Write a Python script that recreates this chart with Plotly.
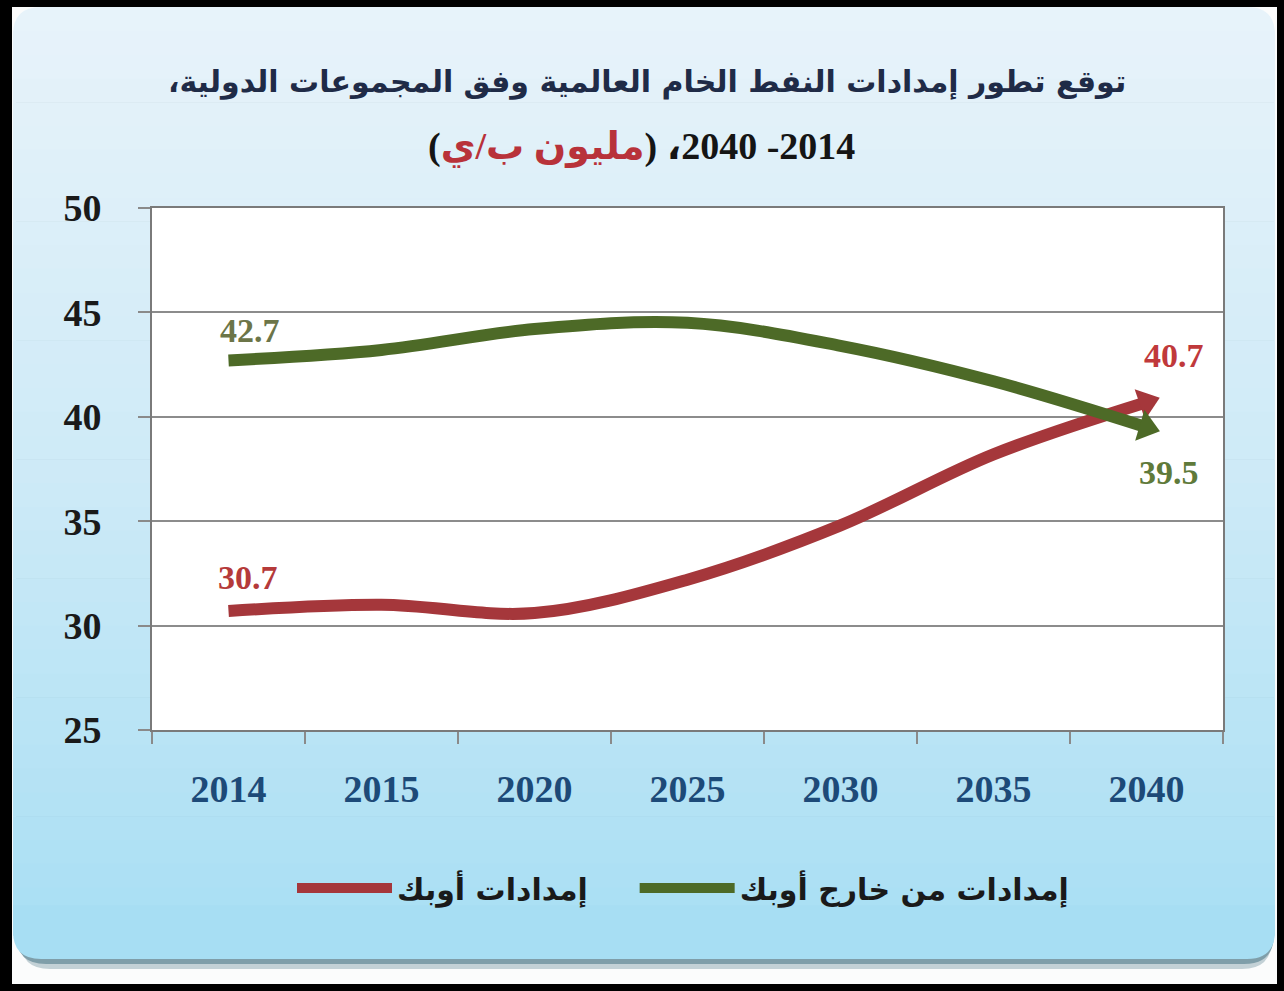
import math
import plotly.graph_objects as go

# ---------------- data ----------------
years = ["2014", "2015", "2020", "2025", "2030", "2035", "2040"]
opec = [30.7, 31.0, 30.6, 32.2, 34.8, 38.2, 40.7]
non_opec = [42.7, 43.2, 44.2, 44.5, 43.4, 41.7, 39.5]
y_ticks = [25, 30, 35, 40, 45, 50]
name_opec = "إمدادات أوبك"
name_non = "إمدادات من خارج أوبك"
title_l1 = "توقع تطور إمدادات النفط الخام العالمية وفق المجموعات الدولية،"
title_l2a = "2014- 2040، ("
title_l2b = "مليون ب/ي"
title_l2c = ")"

RED = "#a5373b"
GREEN = "#4d6a27"

# pixel geometry of plot area
L, R, T, B = 152, 1223, 208, 730
W, H = R - L, B - T
YMIN, YMAX = 25, 50


def px(x):
    return (x - L) / W


def py(y):
    return (B - y) / H


n = len(years)
cat_px = W / n
val_px = H / (YMAX - YMIN)


def end_angle(vals):
    # heading of the final segment (clockwise from up), for the arrow head
    dy = (vals[-1] - vals[-2]) * val_px
    return 90 - math.degrees(math.atan2(dy, cat_px))


fig = go.Figure()
fig.add_trace(go.Scatter(
    x=years, y=opec, name=name_opec + "\u00a0\u00a0\u00a0\u00a0", mode="lines",
    line=dict(color=RED, width=12, shape="spline", smoothing=1.0),
))
fig.add_trace(go.Scatter(
    x=years, y=non_opec, name=name_non, mode="lines",
    line=dict(color=GREEN, width=12, shape="spline", smoothing=1.0),
))
# arrow heads at the series ends
for vals, col in ((opec, RED), (non_opec, GREEN)):
    fig.add_trace(go.Scatter(
        x=[years[-1]], y=[vals[-1]], mode="markers", showlegend=False, hoverinfo="skip",
        marker=dict(symbol="triangle-up", angle=end_angle(vals), size=28, color=col,
                    line=dict(width=0)),
    ))

# ---------------- background shapes ----------------
shapes = []
shapes.append(dict(type="rect", xref="paper", yref="paper", layer="below",
                   x0=px(12), x1=px(1277), y0=py(984), y1=py(7),
                   fillcolor="#fbfcfc", line=dict(width=0)))


def rounded_path(x0, y0, x1, y1, r, top=True, bottom=True):
    rt = r if top else 0
    rb = r if bottom else 0
    s = f"M{px(x0 + rt)},{py(y0)} L{px(x1 - rt)},{py(y0)} "
    if rt:
        s += f"Q{px(x1)},{py(y0)} {px(x1)},{py(y0 + rt)} "
    s += f"L{px(x1)},{py(y1 - rb)} "
    if rb:
        s += f"Q{px(x1)},{py(y1)} {px(x1 - rb)},{py(y1)} "
    s += f"L{px(x0 + rb)},{py(y1)} "
    if rb:
        s += f"Q{px(x0)},{py(y1)} {px(x0)},{py(y1 - rb)} "
    s += f"L{px(x0)},{py(y0 + rt)} "
    if rt:
        s += f"Q{px(x0)},{py(y0)} {px(x0 + rt)},{py(y0)} "
    s += "Z"
    return s


shapes.append(dict(type="path", xref="paper", yref="paper", layer="below",
                   path=rounded_path(20, 20, 1272, 969, 30),
                   fillcolor="#c3d1d6", line=dict(width=0)))
shapes.append(dict(type="path", xref="paper", yref="paper", layer="below",
                   path=rounded_path(16, 14, 1274, 964, 30),
                   fillcolor="#7f9ea9", line=dict(width=0)))

cx0, cx1, cy0, cy1 = 13, 1275, 7, 959
nb = 40
c_top = (232, 243, 250)
c_mid = (205, 234, 247)
c_bot = (166, 222, 243)


def lerp(a, b, t):
    return tuple(int(round(a[i] + (b[i] - a[i]) * t)) for i in range(3))


band_h = (cy1 - cy0) / nb
for i in range(nb):
    t = (i + 0.5) / nb
    col = lerp(c_top, c_mid, t / 0.5) if t < 0.5 else lerp(c_mid, c_bot, (t - 0.5) / 0.5)
    colstr = "rgb(%d,%d,%d)" % col
    ya = cy0 + i * band_h
    yb = cy0 + (i + 1) * band_h + 0.6
    if i == 0:
        shapes.append(dict(type="path", xref="paper", yref="paper", layer="below",
                           path=rounded_path(cx0, ya, cx1, yb + 30, 28, top=True, bottom=False),
                           fillcolor=colstr, line=dict(width=0)))
    elif i == nb - 1:
        shapes.append(dict(type="path", xref="paper", yref="paper", layer="below",
                           path=rounded_path(cx0, ya - 30, cx1, cy1, 28, top=False, bottom=True),
                           fillcolor=colstr, line=dict(width=0)))
    else:
        shapes.append(dict(type="rect", xref="paper", yref="paper", layer="below",
                           x0=px(cx0), x1=px(cx1), y0=py(yb), y1=py(ya),
                           fillcolor=colstr, line=dict(width=0)))

shapes.append(dict(type="rect", xref="paper", yref="paper", layer="below",
                   x0=0, x1=1, y0=0, y1=1, fillcolor="white", line=dict(width=0)))

# ---------------- annotations ----------------
SERIF = "Liberation Serif, DejaVu Serif, serif"
ARAB = "DejaVu Sans, sans-serif"
RLE, PDF = "\u202b", "\u202c"

annotations = [
    dict(xref="paper", yref="paper", x=px(647), y=py(82), showarrow=False,
         xanchor="center", yanchor="middle",
         text="<b>" + RLE + title_l1 + PDF + "</b>",
         font=dict(family=ARAB, size=30, color="#1f2b47")),
    dict(xref="paper", yref="paper", x=px(641), y=py(146), showarrow=False,
         xanchor="center", yanchor="middle",
         text="<b>" + RLE + title_l2a + "<span style='color:#b8323a'>" + title_l2b
              + "</span>" + title_l2c + PDF + "</b>",
         font=dict(family="Liberation Serif, DejaVu Sans, serif", size=38, color="#151515")),
]

first, last = 0, n - 1
label_specs = [
    (first, non_opec[first], "#6c7548", 21, 30),
    (first, opec[first], "#b53a3a", 19, 33),
    (last, opec[last], "#c0393b", 27, 47),
    (last, non_opec[last], "#5f7a3a", 22, -45),
]
for xi, yv, col, xs, ys in label_specs:
    annotations.append(dict(x=xi, y=yv, xref="x", yref="y", text="<b>%.1f</b>" % yv,
                            showarrow=False, xshift=xs, yshift=ys,
                            font=dict(family=SERIF, size=34, color=col)))

fig.update_layout(
    width=1284, height=991,
    margin=dict(l=L, r=1284 - R, t=T, b=991 - B, pad=0),
    paper_bgcolor="black",
    plot_bgcolor="white",
    shapes=shapes,
    annotations=annotations,
    showlegend=True,
    legend=dict(orientation="h", x=px(292), y=py(888), xanchor="left", yanchor="middle",
                font=dict(family=ARAB, size=30, color="#1a1a1a", weight="bold"),
                bgcolor="rgba(0,0,0,0)", itemwidth=95,
                traceorder="normal"),
    xaxis=dict(
        type="category", categoryorder="array", categoryarray=years,
        range=[-0.5, n - 0.5], autorange=False,
        showgrid=False, showline=True, linecolor="#7a7a7a", linewidth=2, mirror=True,
        ticks="outside", ticklen=12, tickwidth=2, tickcolor="#8a8a8a",
        tickson="boundaries", ticklabelstandoff=24, tickangle=0,
        tickfont=dict(family=SERIF, size=38, color="#1d4a78", weight="bold"),
        zeroline=False,
    ),
    yaxis=dict(
        range=[YMIN, YMAX], autorange=False, tickvals=y_ticks, ticktext=[str(v) for v in y_ticks],
        showgrid=True, gridcolor="#8c8c8c", gridwidth=2,
        showline=True, linecolor="#7a7a7a", linewidth=2, mirror=True,
        ticks="outside", ticklen=12, tickwidth=2, tickcolor="#8a8a8a",
        ticklabelstandoff=29,
        tickfont=dict(family=SERIF, size=38, color="#1a1a1a", weight="bold"),
        zeroline=False,
    ),
)

fig.write_html("out.html")
